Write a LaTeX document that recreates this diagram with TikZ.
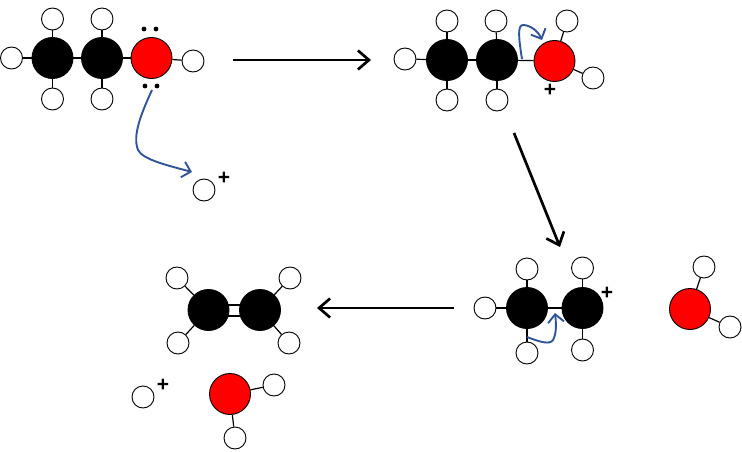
\documentclass[tikz,border=0pt]{standalone}
\usepackage{fontspec}
\setmainfont{Liberation Sans}
\usetikzlibrary{arrows.meta,calc}
\definecolor{oxy}{HTML}{FF0000}
\definecolor{curly}{HTML}{2F5597}
\tikzset{
  x=1pt,y=-1pt,
  atomC/.style={circle,draw=black,fill=black,line width=0.9pt,minimum size=41pt,inner sep=0pt},
  atomO/.style={circle,draw=black,fill=oxy,line width=0.9pt,minimum size=41pt,inner sep=0pt},
  atomH/.style={circle,draw=black,fill=white,line width=0.9pt,minimum size=22pt,inner sep=0pt},
  bond/.style={draw=black,line width=1.2pt},
  dbond/.style={draw=black,line width=1.7pt},
  pair/.style={circle,fill=black,minimum size=4.8pt,inner sep=0pt},
  charge/.style={inner sep=0pt,font=\fontsize{21}{21}\selectfont\bfseries},
  react/.style={draw=black,line width=2.7pt,-{Straight Barb[length=11pt,width=19pt,line width=2.7pt]}},
  curl/.style={draw=curly,line width=1.9pt,-{Straight Barb[length=8pt,width=16pt,line width=1.9pt]}},
}
\begin{document}
\begin{tikzpicture}
\useasboundingbox (0,0) rectangle (742,452);
% molecule 1
\node[atomC] (a1) at (52.5,58) {};
\node[atomC] (a2) at (102,58) {};
\node[atomO] (a3) at (151.5,58) {};
\node[atomH] (a4) at (11.5,58) {};
\node[atomH] (a5) at (52.5,19) {};
\node[atomH] (a6) at (102,19) {};
\node[atomH] (a7) at (52.5,99) {};
\node[atomH] (a8) at (102,99) {};
\node[atomH] (a9) at (193,61) {};
\foreach \p/\q in {a1/a2,a2/a3,a1/a4,a1/a5,a1/a7,a2/a6,a2/a8,a3/a9} \draw[bond] (\p) -- (\q);
\node[pair] (d1) at (144,29) {};
\node[pair] (d2) at (156,29) {};
\node[pair] (d3) at (145,86) {};
\node[pair] (d4) at (157,86) {};
\node[atomH] (p1) at (204,190) {};
\node[charge] (q1) at (224,178) {+};
\coordinate (s1) at (152,90);
\coordinate (e1) at (192,172);
\draw[curl] (s1) .. controls (142,112) and (132,135) .. (138,150) .. controls (143,160) and (170,166) .. (e1);
% molecule 2
\node[atomC] (b1) at (447,60) {};
\node[atomC] (b2) at (497,60) {};
\node[atomO] (b3) at (554.5,61) {};
\node[atomH] (b4) at (405,59) {};
\node[atomH] (b5) at (447,21) {};
\node[atomH] (b6) at (496,21) {};
\node[atomH] (b7) at (447,100) {};
\node[atomH] (b8) at (497,100) {};
\node[atomH] (b9) at (567,21) {};
\node[atomH] (b10) at (593,78) {};
\foreach \p/\q in {b1/b2,b2/b3,b1/b4,b1/b5,b1/b7,b2/b6,b2/b8,b3/b9,b3/b10} \draw[bond] (\p) -- (\q);
\node[charge] (q2) at (550,90) {+};
\coordinate (s2) at (522,59);
\coordinate (e2) at (542,40);
\draw[curl] (s2) .. controls (519,40) and (517,25) .. (523,25) .. controls (530,25) and (538,31) .. (e2);
% molecule 3
\node[atomC] (c1) at (527,308) {};
\node[atomC] (c2) at (582.5,308) {};
\node[atomH] (c3) at (485,308) {};
\node[atomH] (c4) at (527,269) {};
\node[atomH] (c5) at (582.5,268) {};
\node[atomH] (c6) at (527,353) {};
\node[atomH] (c7) at (582.5,350) {};
\foreach \p/\q in {c1/c2,c1/c3,c1/c4,c1/c6,c2/c5,c2/c7} \draw[dbond] (\p) -- (\q);
\node[charge] (q3) at (607,293) {+};
\node[atomO] (w1) at (690,309) {};
\node[atomH] (w2) at (704,267) {};
\node[atomH] (w3) at (730,327) {};
\draw[bond] (w1) -- (w2);
\draw[bond] (w1) -- (w3);
\coordinate (s3) at (527,337);
\coordinate (e3) at (555,313);
\draw[curl] (s3) .. controls (540,342) and (550,345) .. (553,340) .. controls (557,333) and (556,322) .. (e3);
% molecule 4
\node[atomC] (f1) at (208.5,310) {};
\node[atomC] (f2) at (260,310) {};
\node[atomH] (f3) at (177,278) {};
\node[atomH] (f4) at (290,278) {};
\node[atomH] (f5) at (178,343) {};
\node[atomH] (f6) at (289,343) {};
\foreach \p/\q in {f1/f3,f1/f5,f2/f4,f2/f6} \draw[bond] (\p) -- (\q);
\draw[dbond] ([yshift=-6pt]f1.center) -- ([yshift=-6pt]f2.center);
\draw[dbond] ([yshift=5pt]f1.center) -- ([yshift=5pt]f2.center);
\node[atomO] (g1) at (230,394) {};
\node[atomH] (g2) at (274,385) {};
\node[atomH] (g3) at (235,438) {};
\draw[bond] (g1) -- (g2);
\draw[bond] (g1) -- (g3);
\node[atomH] (p2) at (143,397) {};
\node[charge] (q4) at (163,385) {+};
% reaction arrows
\coordinate (r1) at (233,60); \coordinate (r2) at (371,60);
\coordinate (r3) at (514,133); \coordinate (r4) at (560,247);
\coordinate (r5) at (454,308); \coordinate (r6) at (317,308);
\draw[react] (r1) -- (r2);
\draw[react] (r3) -- (r4);
\draw[react] (r5) -- (r6);
\end{tikzpicture}
\end{document}
